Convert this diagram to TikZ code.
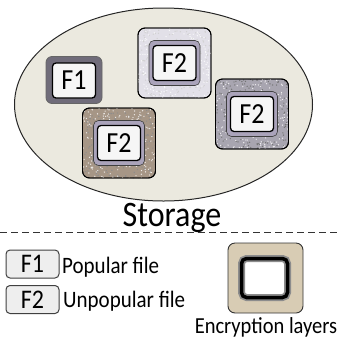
\documentclass[tikz,border=0pt]{standalone}
\usepackage{fontspec}
\setmainfont{Carlito}
\usetikzlibrary{shapes.geometric}
\definecolor{storefill}{RGB}{235,233,223}
\definecolor{marble}{RGB}{226,224,232}
\definecolor{granite}{RGB}{168,165,176}
\definecolor{sand}{RGB}{166,150,134}
\definecolor{ringviolet}{RGB}{170,163,186}
\definecolor{popgray}{RGB}{112,108,122}
\definecolor{filewhite}{RGB}{246,246,246}
\definecolor{legendgray}{RGB}{238,238,238}
\definecolor{encbeige}{RGB}{216,204,180}
\newcommand{\tall}[1]{\scalebox{1}[1.12]{#1}}
\pgfmathsetseed{7}
\tikzset{
  outerlayer/.style={draw=black, line width=0.9pt, rounded corners=7pt,
    minimum width=73pt, minimum height=70pt, inner sep=0pt},
  speckle/.style={path picture={
    \foreach \i in {1,...,240}
      \fill[#1] ([shift={(rand*37pt,rand*36pt)}]path picture bounding box.center) circle (0.7pt);}},
  midring/.style={draw=black!75, fill=ringviolet, line width=0.6pt, rounded corners=5pt,
    minimum width=51pt, minimum height=45pt, inner sep=0pt},
  filebox/.style={draw=black, fill=filewhite, line width=1.3pt, rounded corners=3.5pt,
    minimum width=43pt, minimum height=35pt, inner sep=0pt, font=\fontsize{26}{26}\selectfont},
  legendfile/.style={draw=black!75, fill=legendgray, line width=1pt, rounded corners=4pt,
    minimum width=53pt, minimum height=28pt, inner sep=0pt, font=\fontsize{24}{24}\selectfont},
  legendtext/.style={anchor=base west, inner sep=0pt, font=\fontsize{21}{21}\selectfont}
}
\begin{document}
\begin{tikzpicture}[x=1pt,y=-1pt]
\useasboundingbox (0,0) rectangle (339,338);
% storage
\node[ellipse, draw=black!85, fill=storefill, line width=1pt,
  minimum width=298pt, minimum height=193pt] (storage) at (163.5,104.5) {};
\node[anchor=base, inner sep=0pt, font=\fontsize{32}{32}\selectfont] (storagelabel) at (172,226) {\tall{Storage}};
% popular file, one layer
\node[draw=black!60, fill=popgray, line width=0.8pt, rounded corners=6pt,
  minimum width=56pt, minimum height=47pt] (pop) at (74,80) {};
\node[filebox] (popfile) at (74,80.5) {\tall{F1}};
% unpopular files, several layers
\foreach \name/\x/\y/\c/\d in {ftop/174.5/63/marble/black!18, fright/252/114/granite/black!55,
                              fbottom/119/143/sand/black!45}
  {\node[outerlayer, fill=\c, speckle=\d] (\name) at (\x,\y) {};
   \node[outerlayer, speckle=white!80!\c] (\name-tex) at (\name) {};
   \node[midring] (\name-ring) at (\name) {};
   \node[filebox] (\name-file) at (\name) {\tall{F2}};
  };
% separator
\coordinate (sepleft) at (0,232);
\coordinate (sepright) at (339,232);
\draw[black!80, line width=1pt, dash pattern=on 7pt off 4pt] (sepleft) -- (sepright);
% legend
\node[legendfile] (keyone) at (32.5,264) {\tall{F1}};
\node[legendtext] (keyonetext) at (62,273) {\tall{Popular file}};
\node[legendfile] (keytwo) at (32.5,299.5) {\tall{F2}};
\node[legendtext] (keytwotext) at (63,307) {\tall{Unpopular file}};
\node[draw=black!80, fill=encbeige, line width=0.9pt, rounded corners=7pt,
  minimum width=75pt, minimum height=70pt] (enc) at (265.5,278) {};
\node[draw=black!45, fill=white, line width=7pt, rounded corners=5pt,
  minimum width=46pt, minimum height=39pt] (encglow) at (264.5,278) {};
\node[draw=black, line width=3.5pt, rounded corners=5pt,
  minimum width=46pt, minimum height=39pt] (encring) at (264.5,278) {};
\node[anchor=base, inner sep=0pt, font=\fontsize{20.5}{20.5}\selectfont] (enclabel) at (266,333) {\tall{Encryption layers}};
\end{tikzpicture}
\end{document}
